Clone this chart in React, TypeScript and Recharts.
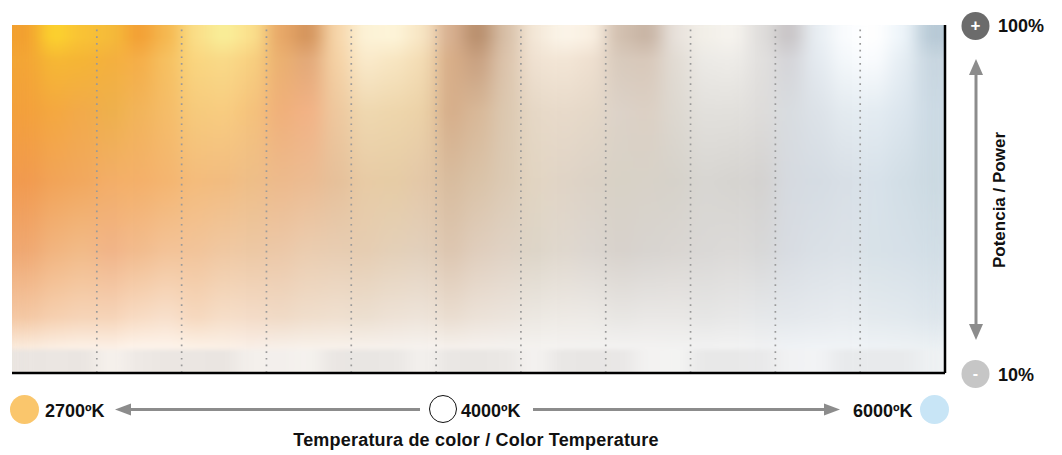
import React from "react";
import { BarChart, Bar, XAxis, YAxis, Cell, ReferenceLine } from "recharts";

// Colour temperature columns (K), 11 steps from warm to cool
const temperatures = ["2700", "3000", "3300", "3600", "3800", "4000", "4400", "4800", "5200", "5600", "6000"];
// each temperature column is sampled in three vertical strips
const stripsPerColumn = 3;
// power range shown on the vertical axis (%)
const powerMax = 100;
const powerLabels = ["100%", "10%"];
const tempLabels = ["2700ºK", "4000ºK", "6000ºK"];

// light colour of each strip, sampled from top (100%) to bottom (10%)
const stopOffsets = [0, 0.035, 0.1, 0.25, 0.45, 0.65, 0.84, 0.925, 0.94, 1];
const shadeRow0 = [
  "#F2A030", "#FCD22E", "#F9C235", "#F5BB3A", "#F3A035", "#F5B850", "#FADE88", "#F9EE98", "#FBE08C",
  "#E8A868", "#D4945C", "#F7D6AA", "#FCF2D6", "#FDF4D8", "#F8E6C4", "#D8B090", "#B88E6C", "#D8C0A8",
  "#F4E8D8", "#FBF4E8", "#FAF0E2", "#D2C0B0", "#C8B4A4", "#E8E2DC", "#F2EFE8", "#F6F3EE", "#E0DEDC",
  "#C8C4C6", "#E8EEF3", "#FAFCFE", "#FFFFFF", "#EEF5FA", "#B8CAD6",
];
const shadeRow1 = [
  "#F3A535", "#F6B834", "#F5B535", "#F4B03E", "#F5AE48", "#F6C060", "#FAD680", "#F9DA88", "#F8D080",
  "#EBB070", "#E2A878", "#F5D2A5", "#FAEACB", "#F8E6C2", "#F4DDB5", "#D8AE88", "#C8A080", "#DCC4AC",
  "#F0E2D2", "#F3E6D6", "#EFE0D0", "#D8CABC", "#D8C8BA", "#E2DCD4", "#ECEAE6", "#EEECE8", "#E2E0DE",
  "#D4D4D8", "#E4EAF0", "#F4F8FB", "#FAFCFE", "#E6EEF4", "#C8D6E0",
];
const shadeRow2 = [
  "#F3A03C", "#F4A840", "#F2AA4A", "#EEB04C", "#F2B45A", "#F5BC68", "#F6CA7C", "#F8CC80", "#F5C27C",
  "#F0B07A", "#F2B285", "#EEC89E", "#EFD8B0", "#EED6AC", "#ECD2A8", "#D6AE8A", "#D8B898", "#DCC8B0",
  "#E6D8C6", "#E8DACA", "#E5D8C8", "#DCD2C8", "#DCD0C4", "#DDD8D0", "#E2E0DC", "#E2E0DC", "#DEDCDA",
  "#D8DCE0", "#DCE2E8", "#E4EBF0", "#E4ECF2", "#DCE6EE", "#CCDAE4",
];
const shadeRow3 = [
  "#F19A4F", "#F2A458", "#F2A85E", "#F3AE68", "#F4B06A", "#F4B570", "#F4BC7C", "#F2BC80", "#EEBE88",
  "#EDBA8C", "#ECBC92", "#E6C09A", "#E8CBA5", "#E6CCA5", "#E4C8A8", "#D8BC9E", "#DAC3A8", "#DCCAB4",
  "#E2D5C2", "#E0D4C6", "#DCD2C6", "#D8D2C6", "#D8D2C8", "#D6D2CA", "#D8D6D2", "#D6D4D0", "#D4D2D0",
  "#D6DAE0", "#D5DCE3", "#D8DFE6", "#D8E2EA", "#D2DEE6", "#CCDAE2",
];
const shadeRow4 = [
  "#EFA872", "#F2B580", "#F2BB88", "#F1B488", "#F2BC8E", "#F3C398", "#F2C49A", "#F0C8A2", "#EDC8A4",
  "#ECC8A8", "#EBCDB0", "#E8CDB2", "#E6CDB2", "#E4D0B8", "#E2D0BC", "#DDC6B0", "#E0CEBD", "#E0D2C4",
  "#DDD5C8", "#E0D8CE", "#DCD6D0", "#D8D2CC", "#D8D4D0", "#DAD6D2", "#DAD8D6", "#DCDAD8", "#D8D8D8",
  "#D8DCE2", "#DAE0E6", "#DCE2E8", "#D8E2E8", "#D6E0E8", "#D2DEE6",
];
const shadeRow5 = [
  "#F4C8A4", "#F6D0B0", "#F6D4B8", "#F6D4B8", "#F8DCC4", "#F8E0CC", "#F6D8BE", "#F6DEC8", "#F4DCC8",
  "#F0DAC6", "#F0DECC", "#F0E0D0", "#ECDFD0", "#EEE2D6", "#EEE4DA", "#EADDD0", "#ECE2D8", "#ECE4DC",
  "#ECE8E2", "#EEEAE5", "#EDEAE6", "#E8E6E3", "#EAE8E6", "#EAE8E6", "#E6E6E5", "#E8E8E8", "#E6E8EA",
  "#E4E8EC", "#E6EAEE", "#E8ECF0", "#E4EAEE", "#E2E9EE", "#DEE6EC",
];
const shadeRow6 = [
  "#FAEADB", "#FBEEE2", "#FCF0E5", "#FCEFE4", "#FDF3EA", "#FDF3EA", "#FCF1E6", "#FBF0E6", "#F9EEE6",
  "#F7EFE8", "#F8F1EA", "#F8F1EA", "#F7F1EB", "#F6F1EC", "#F6F2EE", "#F5F0EB", "#F5F1ED", "#F4F1EE",
  "#F4F2EF", "#F4F2F0", "#F3F2F0", "#F3F2F1", "#F3F2F1", "#F2F2F1", "#F1F1F1", "#F2F2F2", "#F0F1F2",
  "#EFF2F5", "#F0F3F6", "#F0F3F6", "#EEF2F5", "#EDF1F4", "#EBF0F3",
];
const shadeRow7 = [
  "#EAE5E1", "#EBE6E2", "#EAE5E1", "#F6F1EC", "#EEE9E5", "#EBE6E2", "#EBE6E2", "#EAE5E1", "#F4F0EC",
  "#F3EFEC", "#F5F2EE", "#EAE6E3", "#E9E6E3", "#EAE7E4", "#F3F0ED", "#EAE7E4", "#E9E6E3", "#EBE8E5",
  "#F4F2F0", "#E9E7E5", "#E8E6E4", "#E9E7E6", "#F3F2F1", "#F4F4F3", "#E8E8E8", "#E8E8E8", "#E9E9EA",
  "#F1F2F3", "#F2F3F5", "#E8EAEC", "#E8EAEC", "#E8EAEC", "#EEF1F3",
];
const shadeRows = [shadeRow0, shadeRow0, shadeRow1, shadeRow2, shadeRow3, shadeRow4, shadeRow5, shadeRow6, shadeRow7, shadeRow7];

const strips = temperatures.flatMap((t) =>
  Array.from({ length: stripsPerColumn }, (_, s) => ({ strip: `${t}-${s}`, temperature: t, power: powerMax }))
);
const lastStrip = strips[strips.length - 1].strip;

const FONT = "'Liberation Sans', Arial, Helvetica, sans-serif";
const GREY = "#8C8C8C";

function Overlay() {
  const label = { fontFamily: FONT, fontSize: 18, fontWeight: 700, fill: "#111" } as const;
  return (
    <svg width={1062} height={455} style={{ position: "absolute", left: 0, top: 0, pointerEvents: "none" }}>
      {/* power scale on the right */}
      <circle cx={975.5} cy={26} r={14} fill="#6B6B6B" />
      <text x={975.5} y={31} textAnchor="middle" fontFamily={FONT} fontSize={17} fontWeight={700} fill="#fff">+</text>
      <text x={998} y={32} {...label}>{powerLabels[0]}</text>
      <line x1={976} y1={72} x2={976} y2={326} stroke={GREY} strokeWidth={3} />
      <polygon points="976,59 969,75 983,75" fill={GREY} />
      <polygon points="976,340 969,324 983,324" fill={GREY} />
      <circle cx={975.5} cy={374} r={14} fill="#C6C6C6" />
      <text x={975.5} y={379} textAnchor="middle" fontFamily={FONT} fontSize={16} fontWeight={700} fill="#fff">-</text>
      <text x={998} y={381} {...label}>{powerLabels[1]}</text>
      <text x={1005} y={200} textAnchor="middle" transform="rotate(-90 1005 200)" fontFamily={FONT} fontSize={17} fontWeight={700} fill="#111">
        Potencia / Power
      </text>

      {/* colour temperature scale at the bottom */}
      <circle cx={24.5} cy={409.5} r={14.5} fill="#FAC66C" />
      <text x={45} y={416.5} {...label}>{tempLabels[0]}</text>
      <line x1={128} y1={409.5} x2={420} y2={409.5} stroke={GREY} strokeWidth={3} />
      <polygon points="115,409.5 131,403.5 131,415.5" fill={GREY} />
      <circle cx={443} cy={409} r={13.5} fill="#fff" stroke="#111" strokeWidth={1} />
      <text x={461} y={416.5} {...label}>{tempLabels[1]}</text>
      <line x1={533} y1={409.5} x2={826} y2={409.5} stroke={GREY} strokeWidth={3} />
      <polygon points="840,409.5 824,403.5 824,415.5" fill={GREY} />
      <text x={853} y={416.5} {...label}>{tempLabels[2]}</text>
      <circle cx={934.5} cy={409.5} r={14.5} fill="#C8E5F6" />
      <text x={476} y={446} textAnchor="middle" {...label} letterSpacing={0.2}>
        Temperatura de color / Color Temperature
      </text>
    </svg>
  );
}

export default function App() {
  return (
    <div style={{ position: "absolute", left: 0, top: 0, width: 1062, height: 455, background: "#fff" }}>
      <style>{`.recharts-bar-rectangles{filter:url(#stripBlend);}`}</style>
      <BarChart
        width={1062}
        height={455}
        data={strips}
        margin={{ top: 25, right: 117, bottom: 82, left: 12 }}
        barCategoryGap={0}
        barGap={0}
      >
        <defs>
          <filter id="stripBlend" x="0" y="0" width="1" height="1" colorInterpolationFilters="sRGB">
            <feGaussianBlur stdDeviation="9 1.5" />
            <feComponentTransfer>
              <feFuncA type="table" tableValues="1 1" />
            </feComponentTransfer>
          </filter>
          {strips.map((d, i) => (
            <linearGradient key={d.strip} id={`strip${i}`} x1="0" y1="0" x2="0" y2="1">
              {stopOffsets.map((o, k) => (
                <stop key={k} offset={o} stopColor={shadeRows[k][i]} />
              ))}
            </linearGradient>
          ))}
        </defs>
        <XAxis dataKey="strip" hide />
        <YAxis hide domain={[0, powerMax]} />
        <Bar dataKey="power" isAnimationActive={false}>
          {strips.map((d, i) => (
            <Cell key={d.strip} fill={`url(#strip${i})`} stroke={`url(#strip${i})`} strokeWidth={1} />
          ))}
        </Bar>
        {temperatures.slice(1).map((t) => (
          <ReferenceLine
            key={t}
            x={`${t}-0`}
            position="start"
            stroke="#999"
            strokeWidth={1.7}
            strokeDasharray="1.7 5"
          />
        ))}
        <ReferenceLine y={0} stroke="#000" strokeWidth={2.5} />
        <ReferenceLine x={lastStrip} position="end" stroke="#000" strokeWidth={2.5} />
      </BarChart>
      <Overlay />
    </div>
  );
}
